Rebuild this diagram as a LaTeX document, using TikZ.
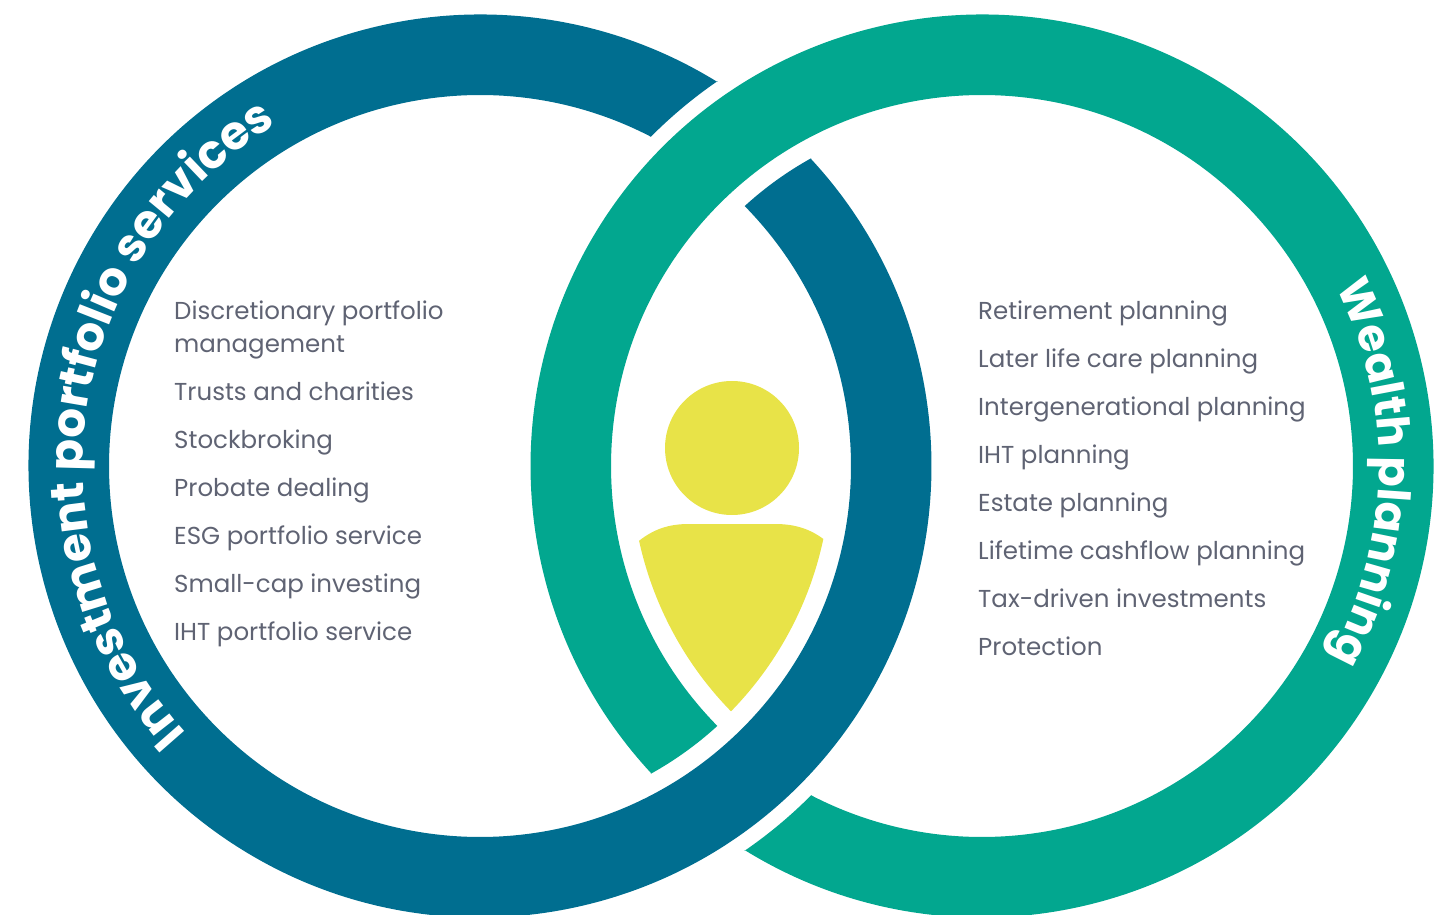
\documentclass[tikz,border=0pt]{standalone}
\usepackage{fontspec}
\usetikzlibrary{decorations.text}
\setmainfont{Poppins}
\newfontfamily\arcfont{Poppins Bold}
\definecolor{ringblue}{HTML}{006E90}
\definecolor{ringgreen}{HTML}{02A78F}
\definecolor{personyellow}{HTML}{E8E348}
\definecolor{bodygrey}{HTML}{5F6373}
\tikzset{
  itemtext/.style={anchor=base west,inner sep=0pt,text=bodygrey,font=\fontsize{24.5}{33}\selectfont,align=left},
  arctextleft/.style={decorate,decoration={text along path,text color=white,text align=center,
    text={|\fontsize{46.8}{47}\selectfont\arcfont|#1}}},
  arctextright/.style={decorate,decoration={text along path,text color=white,text align=center,
    text={|\fontsize{45}{45}\selectfont\arcfont|#1}}}
}
\begin{document}
\begin{tikzpicture}[x=1pt,y=1pt]
\useasboundingbox (0,0) rectangle (1455,914);
\clip (0,0) rectangle (1455,914);
\coordinate (CL) at (480,448);
\coordinate (CR) at (982,448);
% left ring
\fill[ringblue] ([shift=(CL)]58.3:451.5) arc[start angle=58.3,end angle=402.9,radius=451.5pt]
  -- ([shift=(CR)]119:352) arc[start angle=119,end angle=132.4,radius=352pt]
  -- ([shift=(CL)]404.5:371) arc[start angle=404.5,end angle=62.6,radius=371pt]
  -- ([shift=(CR)]135.2:467) arc[start angle=135.2,end angle=124.5,radius=467pt] -- cycle;
% right ring
\fill[ringgreen] ([shift=(CR)]238.3:451.5) arc[start angle=238.3,end angle=582.9,radius=451.5pt]
  -- ([shift=(CL)]-61:352) arc[start angle=-61,end angle=-47.6,radius=352pt]
  -- ([shift=(CR)]584.5:371) arc[start angle=584.5,end angle=242.6,radius=371pt]
  -- ([shift=(CL)]-44.8:467) arc[start angle=-44.8,end angle=-55.5,radius=467pt] -- cycle;
% person
\fill[personyellow] (732,466) circle[radius=67pt];
\fill[personyellow] ([shift=(CL)]-44.3:351) arc[start angle=-44.3,end angle=-12,radius=351pt]
  .. controls (810,385) and (795,390) .. (775,390) -- (689,390)
  .. controls (669,390) and (654,385) .. ([shift=(CR)]192.3:351)
  arc[start angle=192.3,end angle=224.3,radius=351pt] -- cycle;
% ring labels
\path[arctextleft={Investment portfolio services}] ([shift=(CL)]250:397) arc[start angle=250,end angle=93,radius=397pt];
\path[arctextright={Wealth planning}] ([shift=(CR)]49:397) arc[start angle=49,end angle=-51,radius=397pt];
% left list
\node[itemtext] (l1) at (174,561) {Discretionary portfolio\\management};
\node[itemtext] (l2) at (174,513) {Trusts and charities};
\node[itemtext] (l3) at (174,465) {Stockbroking};
\node[itemtext] (l4) at (174,417.6) {Probate dealing};
\node[itemtext] (l5) at (174,369.6) {ESG portfolio service};
\node[itemtext] (l6) at (174,321.6) {Small-cap investing};
\node[itemtext] (l7) at (174,273.6) {IHT portfolio service};
% right list
\node[itemtext] (r1) at (978,594) {Retirement planning};
\node[itemtext] (r2) at (978,546) {Later life care planning};
\node[itemtext] (r3) at (978,498) {Intergenerational planning};
\node[itemtext] (r4) at (978,450) {IHT planning};
\node[itemtext] (r5) at (978,402.6) {Estate planning};
\node[itemtext] (r6) at (978,354.6) {Lifetime cashflow planning};
\node[itemtext] (r7) at (978,306.6) {Tax-driven investments};
\node[itemtext] (r8) at (978,258.6) {Protection};
\end{tikzpicture}
\end{document}
